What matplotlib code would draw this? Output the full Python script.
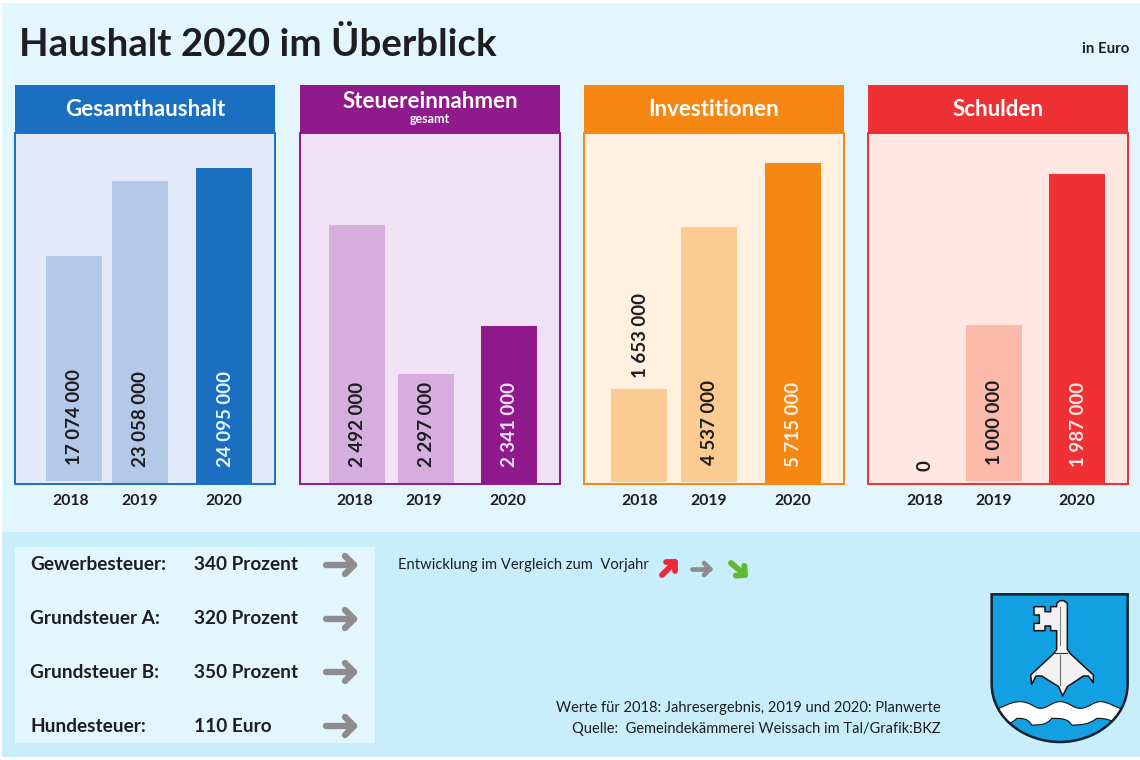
import matplotlib
matplotlib.use("Agg")
import matplotlib.pyplot as plt
from matplotlib.patches import Rectangle, PathPatch, Polygon
from matplotlib.path import Path

plt.rcParams['font.family'] = ['Lato', 'DejaVu Sans']

# chart data
years = ['2018', '2019', '2020']
gesamt_werte = [17074000, 23058000, 24095000]
steuer_werte = [2492000, 2297000, 2341000]
invest_werte = [1653000, 4537000, 5715000]
schulden_werte = [0, 1000000, 1987000]
# the Steuereinnahmen bars are not proportional to their labels, so heights as drawn
steuer_hoehe = [259, 110, 158]

steuer_zeilen = ['Gewerbesteuer:', 'Grundsteuer A:', 'Grundsteuer B:', 'Hundesteuer:']
steuer_saetze = ['340 Prozent', '320 Prozent', '350 Prozent', '110 Euro']

W, H = 1140, 760
DARK = '#1d1d22'
GREY = '#8f8c90'

fig = plt.figure(figsize=(W / 100, H / 100), dpi=100, facecolor='white')
bg = fig.add_axes([0, 0, 1, 1])
bg.set_xlim(0, W)
bg.set_ylim(H, 0)
bg.axis('off')

bg.add_patch(Rectangle((2, 3), W - 2, 529, fc='#e3f6fe', ec='none'))
bg.add_patch(Rectangle((2, 532), W - 2, 225, fc='#c9eefb', ec='none'))
bg.add_patch(Rectangle((15, 547), 360, 196, fc='#e3f6fe', ec='none'))

bg.text(19, 44, 'Haushalt 2020 im Überblick', fontsize=27.6, fontweight='bold',
        color=DARK, va='center', ha='left')
bg.text(1129, 49, 'in Euro', fontsize=10.8, fontweight='bold', color=DARK, va='center', ha='right')


def draw_panel(left, title, subtitle, werte, hoehe, ymax, centers, ticks, gaps, label_px,
               strong, light, body, text_last):
    top, bottom, width = 133, 484, 260
    px = ymax / (bottom - top)
    bg.add_patch(Rectangle((left, 85), width, 48, fc=strong, ec='none'))
    ty = 102 if subtitle else 109.5
    bg.text(left + width / 2, ty, title, color='white', fontsize=16, fontweight='bold',
            ha='center', va='center')
    if subtitle:
        bg.text(left + width / 2, 119, subtitle, color='white', fontsize=9, fontweight='bold',
                ha='center', va='center')

    ax = fig.add_axes([left / W, 1 - bottom / H, width / W, (bottom - top) / H])
    ax.set_facecolor(body)
    ax.set_xlim(0, width)
    ax.set_ylim(0, ymax)
    colors = [light, light, strong]
    ax.bar(centers, hoehe, width=56, bottom=[g * px for g in gaps], color=colors,
           linewidth=0, zorder=2)
    for i in range(3):
        label = f'{werte[i]:,}'.replace(',', ' ')
        col = text_last if i == 2 else DARK
        ax.text(centers[i] + 1, label_px[i] * px, label, rotation=90, ha='center', va='bottom',
                color=col, fontsize=13.5, fontweight='bold', zorder=3)
    ax.set_yticks([])
    ax.set_xticks(ticks)
    ax.set_xticklabels(years, fontsize=11.3, fontweight='bold', color=DARK)
    ax.tick_params(axis='x', length=0, pad=7)
    for s in ax.spines.values():
        s.set_color(strong)
        s.set_linewidth(1.4)


draw_panel(15, 'Gesamthaushalt', None, gesamt_werte, gesamt_werte, 26750000,
           [59, 125, 209.5], [56, 125, 209], [3.5, 0, 0], [19, 17, 17],
           '#1a6fc0', '#b4c8e8', '#e3e9f8', '#e3f6fe')
draw_panel(300, 'Steuereinnahmen', 'gesamt', steuer_werte, steuer_hoehe, 351,
           [56.5, 125.5, 208.5], [55, 124, 208], [0, 0, 0], [17, 17, 17],
           '#8e1a8c', '#d6aede', '#f1e1f5', '#f1e1f5')
draw_panel(584, 'Investitionen', None, invest_werte, invest_werte, 6250000,
           [55, 124.5, 208.5], [56, 125, 209], [2.5, 2.5, 0], [106, 19, 17],
           '#f68712', '#fbcb91', '#fff0e0', '#fff0e0')
draw_panel(868, 'Schulden', None, schulden_werte, schulden_werte, 2250000,
           [56, 126, 209], [57, 126, 209], [0, 3.5, 0], [13, 19, 17],
           '#ef3035', '#fbb9aa', '#ffe6e0', '#ffe6e0')


def arrow(x0, y0, x1, y1, color, lw, head):
    # shaft plus two head strokes with round ends
    dx, dy = x1 - x0, y1 - y0
    n = (dx ** 2 + dy ** 2) ** 0.5
    ux, uy = dx / n, dy / n
    kw = dict(color=color, lw=lw, solid_capstyle='round', solid_joinstyle='round')
    bg.plot([x0, x1], [y0, y1], **kw)
    bg.plot([x1 - head * (ux - uy), x1, x1 - head * (ux + uy)],
            [y1 - head * (uy + ux), y1, y1 - head * (uy - ux)], **kw)


row_y = [565, 619, 672, 726]
for i in range(4):
    bg.text(30, row_y[i], steuer_zeilen[i], fontsize=13.7, fontweight='bold', color=DARK, va='center')
    bg.text(194, row_y[i], steuer_saetze[i], fontsize=13.7, fontweight='bold', color=DARK, va='center')
    arrow(326, row_y[i], 354, row_y[i], GREY, 4.6, 9)

bg.text(398, 565, 'Entwicklung im Vergleich zum  Vorjahr', fontsize=10.6, color=DARK, va='center')
arrow(662, 575, 675, 562, '#ea2a3a', 4.2, 6.5)
arrow(692, 569, 710, 569, GREY, 3.4, 6)
arrow(731, 563, 745, 575, '#62b82e', 4.2, 6.5)

bg.text(941, 708, 'Werte für 2018: Jahresergebnis, 2019 und 2020: Planwerte', fontsize=10.5,
        color=DARK, ha='right', va='center')
bg.text(941, 729, 'Quelle:  Gemeindekämmerei Weissach im Tal/Grafik:BKZ', fontsize=10.5,
        color=DARK, ha='right', va='center')


# coat of arms
def z(pts):
    return [(960 + x / 3, 570 + y / 3) for x, y in pts]


C4 = Path.CURVE4
shield = Path(z([(95, 73), (503, 73), (503, 340), (503, 450), (400, 516), (300, 516),
                 (200, 516), (95, 450), (95, 340), (95, 73)]),
              [Path.MOVETO, Path.LINETO, Path.LINETO, C4, C4, C4, C4, C4, C4, Path.CLOSEPOLY])
shield_fill = PathPatch(shield, fc='#13a0e3', ec='none', zorder=5)
bg.add_patch(shield_fill)

wave_top = [(80, 430), (130, 412), (150, 395), (180, 395), (210, 395), (225, 415), (240, 415),
            (265, 415), (275, 395), (300, 395), (325, 395), (340, 415), (360, 415),
            (385, 415), (400, 395), (420, 395), (445, 395), (460, 410), (520, 430)]
wave_bot = [(520, 480), (450, 445), (430, 445), (410, 445), (385, 465), (360, 465),
            (335, 465), (325, 445), (300, 445), (275, 445), (260, 465), (240, 465),
            (215, 465), (205, 445), (185, 445), (170, 445), (150, 470), (80, 480)]
w_pts = wave_top + wave_bot + [(80, 430)]
w_codes = [Path.MOVETO] + [C4] * 18 + [Path.LINETO] + [C4] * 17 + [Path.CLOSEPOLY]
wave = PathPatch(Path(z(w_pts), w_codes), fc='white', ec='#111111', lw=0.8, zorder=6)
bg.add_patch(wave)
wave.set_clip_path(shield_fill)

# key
key_pts = [(290, 100), (300, 92), (312, 92), (322, 100), (322, 238), (330, 250), (400, 315),
           (400, 338), (385, 318), (370, 318), (322, 350), (308, 378), (296, 350), (245, 318),
           (228, 318), (215, 343), (212, 315), (282, 250), (290, 238), (290, 182), (272, 182),
           (272, 168), (255, 168), (255, 182), (222, 182), (222, 160), (238, 160), (238, 135),
           (222, 135), (222, 110), (255, 110), (255, 125), (272, 125), (272, 110), (290, 110)]
bg.add_patch(Polygon(z(key_pts), closed=True, fc='#f2f2f2', ec='#111111', lw=1.1, zorder=7,
                     joinstyle='round'))
bg.plot(*zip(*z([(300, 110), (300, 225)])), color='#777777', lw=0.7, zorder=8)
bg.plot(*zip(*z([(300, 255), (300, 345)])), color='#777777', lw=0.9, zorder=8)
bg.plot(*zip(*z([(285, 250), (322, 250)])), color='#333333', lw=0.8, zorder=8)
bg.add_patch(PathPatch(shield, fc='none', ec='#14202b', lw=1.8, zorder=9))

fig.savefig('out.png', dpi=100, facecolor=fig.get_facecolor())
